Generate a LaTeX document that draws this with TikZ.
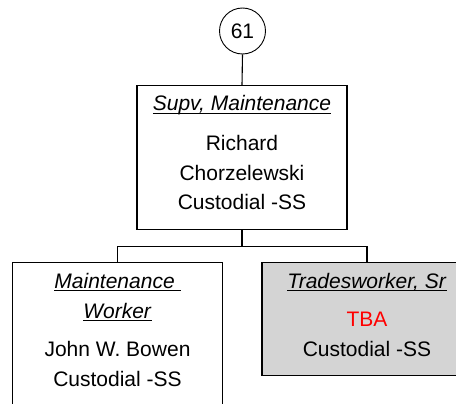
\documentclass[tikz,border=0pt]{standalone}
\usepackage{fontspec}
\setmainfont{Liberation Sans}
\usepackage{xcolor}
\usetikzlibrary{positioning,calc}
\definecolor{boxgray}{HTML}{D4D4D4}
\definecolor{tbared}{HTML}{FF0000}
\tikzset{
  postbox/.style={draw, line width=1.1pt, minimum width=210pt, anchor=north, inner sep=0pt},
  lineTxt/.style={anchor=base, inner sep=0pt, font=\fontsize{21}{30}\selectfont},
  titleTxt/.style={lineTxt},
  link/.style={line width=1.1pt}
}
% italic title with a heavier underline
\newcommand{\posttitle}[1]{\setbox0\hbox{\textit{#1}}\rlap{\rule[-3.4pt]{\wd0}{1.4pt}}\box0}
\begin{document}
\begin{tikzpicture}[x=1pt, y=-1pt]
\useasboundingbox (0,0) rectangle (456,404);
\clip (0,0) rectangle (456,404);
% ---------- position number ----------
\node[draw, circle, line width=0.9pt, minimum size=46pt, inner sep=0pt,
      font=\fontsize{21}{30}\selectfont] (pos61) at (242.5,31) {61};
% ---------- supervisor ----------
\node[postbox, minimum height=144pt] (supv) at (242,85) {};
\node[titleTxt] (supvT) at ($(supv.north)+(0,25.7)$) {\posttitle{Supv, Maintenance}};
\node[lineTxt] (supvN1) at ($(supvT.base)+(0,39.3)$) {Richard};
\node[lineTxt] (supvN2) at ($(supvN1.base)+(0,30)$) {Chorzelewski};
\node[lineTxt] (supvD) at ($(supvN2.base)+(0,30)$) {Custodial -SS};
% ---------- maintenance worker ----------
\node[postbox, minimum height=160pt] (maint) at (117.5,262) {};
\node[titleTxt] (maintT1) at ($(maint.north)+(0,26)$) {\posttitle{Maintenance\ }};
\node[titleTxt] (maintT2) at ($(maintT1.base)+(0,30)$) {\posttitle{Worker}};
\node[lineTxt] (maintN) at ($(maintT2.base)+(0,38.5)$) {John W. Bowen};
\node[lineTxt] (maintD) at ($(maintN.base)+(0,30)$) {Custodial -SS};
% ---------- tradesworker ----------
\node[postbox, fill=boxgray, minimum height=113pt] (trades) at (367,262) {};
\node[titleTxt] (tradesT) at ($(trades.north)+(0,26)$) {\posttitle{Tradesworker, Sr}};
\node[lineTxt, text=tbared] (tradesN) at ($(tradesT.base)+(0,38.5)$) {TBA};
\node[lineTxt] (tradesD) at ($(tradesN.base)+(0,30)$) {Custodial -SS};
% ---------- connectors ----------
\draw[link] (pos61.south) -- (supv.north);
\coordinate (split) at ($(supv.south)+(0,16)$);
\draw[link] (supv.south) -- (split);
\draw[link] (maint.north) |- (split) -| (trades.north);
\end{tikzpicture}
\end{document}
